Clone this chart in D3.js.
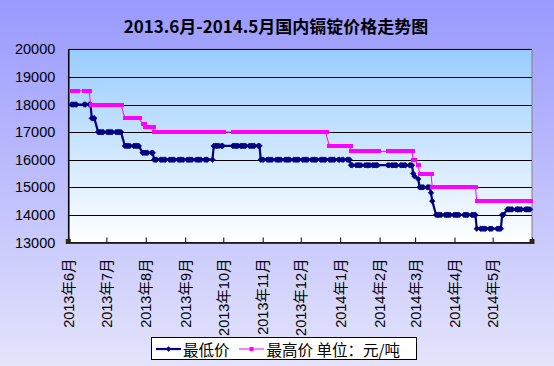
<!DOCTYPE html>
<html><head><meta charset="utf-8">
<script src="https://cdn.jsdelivr.net/npm/d3@7"></script>
<style>body{margin:0;padding:0;overflow:hidden;background:#fff}svg{display:block}</style>
</head><body>
<svg id="c" width="554" height="366"></svg>
<script>
const chartTitle = "2013.6月-2014.5月国内镉锭价格走势图";
const seriesNames = ["最低价", "最高价 单位：元/吨"];
const monthLabels = ["2013年6月","2013年7月","2013年8月","2013年9月","2013年10月","2013年11月","2013年12月","2014年1月","2014年2月","2014年3月","2014年4月","2014年5月"];
const monthStarts = ["2013-06-01","2013-07-01","2013-08-01","2013-09-01","2013-10-01","2013-11-01","2013-12-01","2014-01-01","2014-02-01","2014-03-01","2014-04-01","2014-05-01","2014-06-01"];
const yTicks = [13000,14000,15000,16000,17000,18000,19000,20000];

const tradingDays = [
"2013-06-03","2013-06-04","2013-06-05","2013-06-06","2013-06-07","2013-06-13","2013-06-14","2013-06-17","2013-06-18","2013-06-19","2013-06-20","2013-06-21","2013-06-24","2013-06-25","2013-06-26","2013-06-27","2013-06-28",
"2013-07-01","2013-07-02","2013-07-03","2013-07-04","2013-07-05","2013-07-08","2013-07-09","2013-07-10","2013-07-11","2013-07-12","2013-07-15","2013-07-16","2013-07-17","2013-07-18","2013-07-19","2013-07-22","2013-07-23","2013-07-24","2013-07-25","2013-07-26","2013-07-29","2013-07-30","2013-07-31",
"2013-08-01","2013-08-02","2013-08-05","2013-08-06","2013-08-07","2013-08-08","2013-08-09","2013-08-12","2013-08-13","2013-08-14","2013-08-15","2013-08-16","2013-08-19","2013-08-20","2013-08-21","2013-08-22","2013-08-23","2013-08-26","2013-08-27","2013-08-28","2013-08-29","2013-08-30",
"2013-09-02","2013-09-03","2013-09-04","2013-09-05","2013-09-06","2013-09-09","2013-09-10","2013-09-11","2013-09-12","2013-09-13","2013-09-16","2013-09-17","2013-09-18","2013-09-22","2013-09-23","2013-09-24","2013-09-25","2013-09-26","2013-09-27","2013-09-29","2013-09-30",
"2013-10-08","2013-10-09","2013-10-10","2013-10-11","2013-10-12","2013-10-14","2013-10-15","2013-10-16","2013-10-17","2013-10-18","2013-10-21","2013-10-22","2013-10-23","2013-10-24","2013-10-25","2013-10-28","2013-10-29","2013-10-30","2013-10-31",
"2013-11-01","2013-11-04","2013-11-05","2013-11-06","2013-11-07","2013-11-08","2013-11-11","2013-11-12","2013-11-13","2013-11-14","2013-11-15","2013-11-18","2013-11-19","2013-11-20","2013-11-21","2013-11-22","2013-11-25","2013-11-26","2013-11-27","2013-11-28","2013-11-29",
"2013-12-02","2013-12-03","2013-12-04","2013-12-05","2013-12-06","2013-12-09","2013-12-10","2013-12-11","2013-12-12","2013-12-13","2013-12-16","2013-12-17","2013-12-18","2013-12-19","2013-12-20","2013-12-23","2013-12-24","2013-12-25","2013-12-26","2013-12-27","2013-12-30","2013-12-31",
"2014-01-02","2014-01-03","2014-01-06","2014-01-07","2014-01-08","2014-01-09","2014-01-10","2014-01-13","2014-01-14","2014-01-15","2014-01-16","2014-01-17","2014-01-20","2014-01-21","2014-01-22","2014-01-23","2014-01-24","2014-01-26","2014-01-27","2014-01-28","2014-01-29","2014-01-30",
"2014-02-07","2014-02-08","2014-02-10","2014-02-11","2014-02-12","2014-02-13","2014-02-14","2014-02-17","2014-02-18","2014-02-19","2014-02-20","2014-02-21","2014-02-24","2014-02-25","2014-02-26","2014-02-27","2014-02-28",
"2014-03-03","2014-03-04","2014-03-05","2014-03-06","2014-03-07","2014-03-10","2014-03-11","2014-03-12","2014-03-13","2014-03-14","2014-03-17","2014-03-18","2014-03-19","2014-03-20","2014-03-21","2014-03-24","2014-03-25","2014-03-26","2014-03-27","2014-03-28","2014-03-31",
"2014-04-01","2014-04-02","2014-04-03","2014-04-04","2014-04-08","2014-04-09","2014-04-10","2014-04-11","2014-04-14","2014-04-15","2014-04-16","2014-04-17","2014-04-18","2014-04-21","2014-04-22","2014-04-23","2014-04-24","2014-04-25","2014-04-28","2014-04-29","2014-04-30",
"2014-05-04","2014-05-05","2014-05-06","2014-05-07","2014-05-08","2014-05-09","2014-05-12","2014-05-13","2014-05-14","2014-05-15","2014-05-16","2014-05-19","2014-05-20","2014-05-21","2014-05-22","2014-05-23","2014-05-26","2014-05-27","2014-05-28","2014-05-29","2014-05-30"
];

const lowPrices = [
18000,18000,18000,18000,18000,18000,18000,18000,18000,17500,17500,17500,17000,17000,17000,17000,17000,
17000,17000,17000,17000,17000,17000,17000,17000,17000,17000,16500,16500,16500,16500,16500,16500,16500,16500,16500,16500,16250,16250,16250,
16250,16250,16250,16250,16000,16000,16000,16000,16000,16000,16000,16000,16000,16000,16000,16000,16000,16000,16000,16000,16000,16000,
16000,16000,16000,16000,16000,16000,16000,16000,16000,16000,16000,16000,16000,16000,16500,16500,16500,16500,16500,16500,16500,
16500,16500,16500,16500,16500,16500,16500,16500,16500,16500,16500,16500,16500,16500,16500,16500,16500,16000,16000,
16000,16000,16000,16000,16000,16000,16000,16000,16000,16000,16000,16000,16000,16000,16000,16000,16000,16000,16000,16000,16000,
16000,16000,16000,16000,16000,16000,16000,16000,16000,16000,16000,16000,16000,16000,16000,16000,16000,16000,16000,16000,16000,16000,
16000,16000,16000,16000,16000,15800,15800,15800,15800,15800,15800,15800,15800,15800,15800,15800,15800,15800,15800,15800,15800,15800,
15800,15800,15800,15800,15800,15800,15800,15800,15800,15800,15800,15800,15800,15800,15800,15500,15400,
15300,15000,15000,15000,15000,15000,15000,15000,14800,14500,14000,14000,14000,14000,14000,14000,14000,14000,14000,14000,14000,
14000,14000,14000,14000,14000,14000,14000,14000,14000,14000,14000,14000,13500,13500,13500,13500,13500,13500,13500,13500,13500,
13500,13500,13500,13500,14000,14000,14200,14200,14200,14200,14200,14200,14200,14200,14200,14200,14200,14200,14200,14200,14200
];

const highPrices = [
18500,18500,18500,18500,18500,18500,18500,18500,18000,18000,18000,18000,18000,18000,18000,18000,18000,
18000,18000,18000,18000,18000,18000,18000,18000,18000,18000,17500,17500,17500,17500,17500,17500,17500,17500,17500,17500,17300,17300,17200,
17200,17200,17200,17200,17000,17000,17000,17000,17000,17000,17000,17000,17000,17000,17000,17000,17000,17000,17000,17000,17000,17000,
17000,17000,17000,17000,17000,17000,17000,17000,17000,17000,17000,17000,17000,17000,17000,17000,17000,17000,17000,17000,17000,
17000,17000,17000,17000,17000,17000,17000,17000,17000,17000,17000,17000,17000,17000,17000,17000,17000,17000,17000,
17000,17000,17000,17000,17000,17000,17000,17000,17000,17000,17000,17000,17000,17000,17000,17000,17000,17000,17000,17000,17000,
17000,17000,17000,17000,17000,17000,17000,17000,17000,17000,17000,17000,17000,17000,17000,16500,16500,16500,16500,16500,16500,16500,
16500,16500,16500,16500,16500,16300,16300,16300,16300,16300,16300,16300,16300,16300,16300,16300,16300,16300,16300,16300,16300,16300,
16300,16300,16300,16300,16300,16300,16300,16300,16300,16300,16300,16300,16300,16300,16300,16000,16000,
15800,15500,15500,15500,15500,15500,15500,15500,15500,15000,15000,15000,15000,15000,15000,15000,15000,15000,15000,15000,15000,
15000,15000,15000,15000,15000,15000,15000,15000,15000,15000,15000,15000,14500,14500,14500,14500,14500,14500,14500,14500,14500,
14500,14500,14500,14500,14500,14500,14500,14500,14500,14500,14500,14500,14500,14500,14500,14500,14500,14500,14500,14500,14500
];

const W = 554, H = 366;
const plot = {left: 68.3, right: 532, top: 49.3, bottom: 242.5};
const parse = d3.timeParse("%Y-%m-%d");
const svg = d3.select("#c");
const defs = svg.append("defs");
const g1 = defs.append("linearGradient").attr("id","bgGrad").attr("x1",0).attr("y1",0).attr("x2",0).attr("y2",1);
g1.append("stop").attr("offset","0%").attr("stop-color","#9999FF");
g1.append("stop").attr("offset","100%").attr("stop-color","#E4E4FB");
const g2 = defs.append("linearGradient").attr("id","plotGrad").attr("x1",0).attr("y1",0).attr("x2",0).attr("y2",1);
g2.append("stop").attr("offset","0%").attr("stop-color","#99CCFF");
g2.append("stop").attr("offset","100%").attr("stop-color","#FFFFFF");

svg.append("rect").attr("width",W).attr("height",H).attr("fill","url(#bgGrad)");

const x = d3.scaleTime().domain([parse(monthStarts[0]), parse(monthStarts[monthStarts.length-1])]).range([plot.left, plot.right]);
const y = d3.scaleLinear().domain([13000, 20000]).range([plot.bottom, plot.top]);

svg.append("rect").attr("x",plot.left).attr("y",plot.top).attr("width",plot.right-plot.left).attr("height",plot.bottom-plot.top)
  .attr("fill","url(#plotGrad)").attr("stroke","#808080").attr("stroke-width",1);

// gridlines
svg.append("g").selectAll("line").data(yTicks.filter(v=>v>13000)).join("line")
  .attr("x1",plot.left).attr("x2",plot.right).attr("y1",d=>Math.round(y(d))+0.5).attr("y2",d=>Math.round(y(d))+0.5)
  .attr("stroke","#000").attr("stroke-width",1);

// title
svg.append("text").attr("x",276).attr("y",33).attr("text-anchor","middle")
  .attr("font-family","'Noto Sans CJK SC', sans-serif").attr("font-weight","bold").attr("font-size",17)
  .attr("fill","#000").text(chartTitle);

// y axis
const yAxis = svg.append("g").attr("transform",`translate(${plot.left},0)`)
  .call(d3.axisLeft(y).tickValues(yTicks).tickSize(0).tickPadding(13).tickFormat(d3.format("d")));
yAxis.select(".domain").attr("stroke","#000").attr("stroke-width",1.5);
yAxis.selectAll("text").attr("font-family","'Liberation Sans', Arial, sans-serif").attr("font-size",14.5).attr("fill","#000");

// x axis
const tickDates = monthStarts.map(parse);
const xAxis = svg.append("g").attr("transform",`translate(0,${plot.bottom})`)
  .call(d3.axisBottom(x).tickValues(tickDates).tickSizeInner(-5).tickSizeOuter(0)
    .tickFormat((d,i)=> monthLabels[i] || ""));
xAxis.select(".domain").attr("stroke","#000").attr("stroke-width",1.5);
xAxis.selectAll(".tick line").attr("stroke","#000");
xAxis.selectAll("text").attr("font-family","'Liberation Sans', 'Noto Sans CJK SC', sans-serif").attr("font-size",14.5).attr("fill","#000")
  .attr("text-anchor","end").attr("transform","rotate(-90)").attr("x",-16).attr("y",0).attr("dy","0.35em");

// data
const pts = tradingDays.map((d,i)=>({t: d3.timeHour.offset(parse(d),12), low: lowPrices[i], high: highPrices[i]}));

const lowLine = d3.line().x(d=>x(d.t)).y(d=>y(d.low));
const highLine = d3.line().x(d=>x(d.t)).y(d=>y(d.high));

const diamond = "M0,-2.8L2.8,0L0,2.8L-2.8,0Z";

svg.append("path").datum(pts).attr("d",lowLine).attr("fill","none").attr("stroke","#000080").attr("stroke-width",2.2);
svg.append("g").selectAll("path").data(pts).join("path")
  .attr("d",diamond).attr("transform",d=>`translate(${x(d.t)},${y(d.low)})`).attr("fill","#000080").attr("stroke","#000080").attr("stroke-width",0.6);

svg.append("path").datum(pts).attr("d",highLine).attr("fill","none").attr("stroke","#FF00FF").attr("stroke-width",1);
svg.append("g").attr("shape-rendering","crispEdges").selectAll("rect").data(pts).join("rect")
  .attr("x",d=>Math.round(x(d.t))-2).attr("y",d=>Math.round(y(d.high))-2).attr("width",5).attr("height",4).attr("fill","#FF00FF");

// corner markers on the axis
const xr = x.range();
svg.append("g").selectAll("rect").data(xr).join("rect")
  .attr("x",d=>d-2.5).attr("y",y(13000)-3.5).attr("width",5).attr("height",5)
  .attr("fill","#2B2B10");

// legend
const lg = svg.append("g");
lg.append("rect").attr("x",151.5).attr("y",337.5).attr("width",265).attr("height",22).attr("fill","#fff").attr("stroke","#000").attr("stroke-width",1);
lg.append("line").attr("x1",156).attr("x2",181).attr("y1",349).attr("y2",349).attr("stroke","#000080").attr("stroke-width",2.2);
lg.append("path").attr("d",diamond).attr("transform","translate(168.5,349)").attr("fill","#000080");
lg.append("text").attr("x",183).attr("y",349).attr("dominant-baseline","central")
  .attr("font-family","'Noto Sans CJK SC', sans-serif").attr("font-size",15.5).attr("fill","#000").text(seriesNames[0]);
lg.append("line").attr("x1",239).attr("x2",264).attr("y1",349).attr("y2",349).attr("stroke","#FF00FF").attr("stroke-width",1);
lg.append("rect").attr("x",249.5).attr("y",347).attr("width",4).attr("height",4).attr("fill","#FF00FF");
lg.append("text").attr("x",266.5).attr("y",349).attr("dominant-baseline","central")
  .attr("font-family","'Noto Sans CJK SC', sans-serif").attr("font-size",15.5).attr("fill","#000").text(seriesNames[1]);
</script>
</body></html>
